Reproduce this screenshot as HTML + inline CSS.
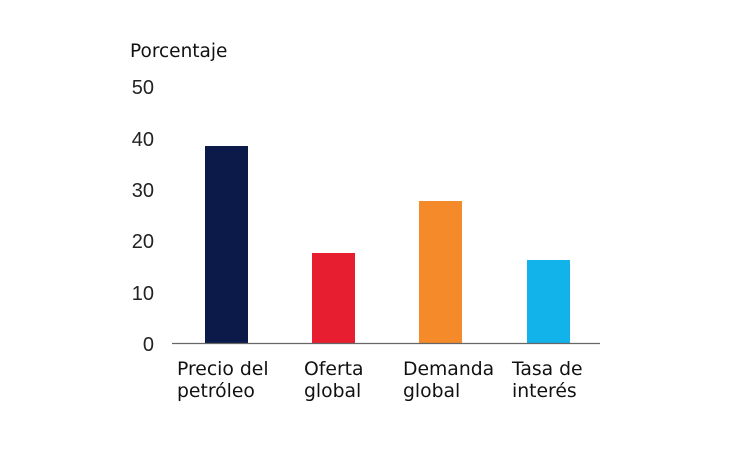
<!DOCTYPE html>
<html><head><style>
body{margin:0;background:#fff;}
svg text{font-family:"Liberation Sans",sans-serif;}
svg text.d{font-family:"DejaVu Sans",sans-serif;}
</style></head><body>
<svg width="750" height="446" xmlns="http://www.w3.org/2000/svg">
<rect width="750" height="446" fill="#fff"/>
<text class="d" x="130" y="57" font-size="18.5" fill="#111">Porcentaje</text>
<g font-size="20" fill="#222" text-anchor="end">
<text x="154" y="94">50</text>
<text x="154" y="146">40</text>
<text x="154" y="197">30</text>
<text x="154" y="248">20</text>
<text x="154" y="300">10</text>
<text x="154" y="351">0</text>
</g>
<rect x="205" y="146" width="43" height="197" fill="#0b1a48"/>
<rect x="312" y="253" width="43" height="90" fill="#e61e30"/>
<rect x="419" y="201" width="43" height="142" fill="#f58a2a"/>
<rect x="527" y="260" width="43" height="83" fill="#12b2ea"/>
<line x1="172" y1="343.5" x2="600" y2="343.5" stroke="#666" stroke-width="1.2"/>
<g font-size="18.8" fill="#111">
<text class="d" x="177" y="375">Precio del</text><text class="d" x="177" y="397">petróleo</text>
<text class="d" x="304" y="375">Oferta</text><text class="d" x="304" y="397">global</text>
<text class="d" x="403" y="375">Demanda</text><text class="d" x="403" y="397">global</text>
<text class="d" x="512" y="375">Tasa de</text><text class="d" x="512" y="397">interés</text>
</g>
</svg>
</body></html>
